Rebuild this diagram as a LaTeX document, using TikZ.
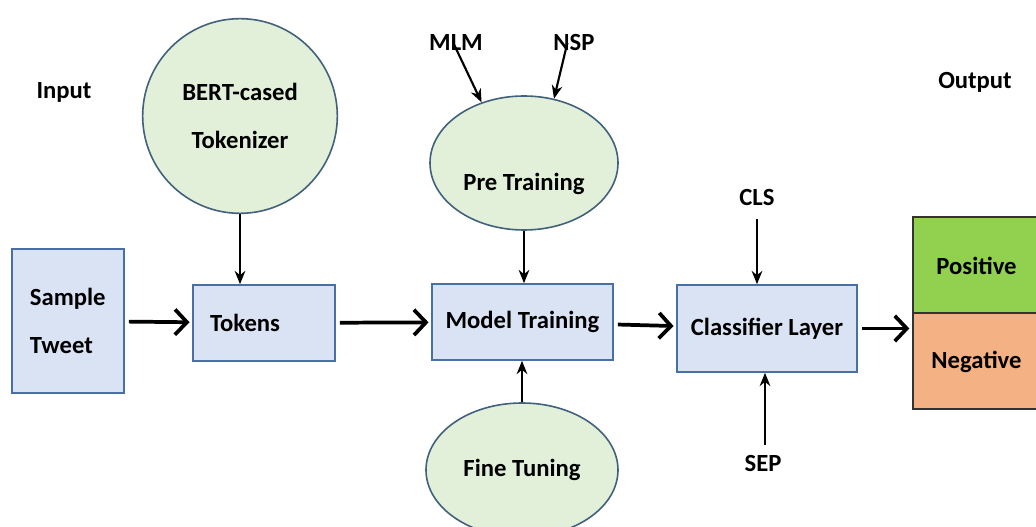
\documentclass[tikz,border=0pt]{standalone}
\usepackage{fontspec}
\setmainfont{Carlito}
\usetikzlibrary{shapes,arrows.meta,positioning}

\definecolor{boxfill}{HTML}{DAE3F3}
\definecolor{boxline}{HTML}{4A6FA5}
\definecolor{ovalfill}{HTML}{E2EFD9}
\definecolor{ovalline}{HTML}{41617C}
\definecolor{posfill}{HTML}{92D050}
\definecolor{negfill}{HTML}{F4B183}

\begin{document}
\begin{tikzpicture}[x=0.75pt, y=-0.75pt, font=\fontsize{18.5}{36}\selectfont\bfseries]
\tikzstyle{block} = [rectangle, draw=boxline, line width=1.2pt, fill=boxfill, inner sep=0pt]
\tikzstyle{cloud} = [ellipse, draw=ovalline, line width=1.2pt, fill=ovalfill, inner sep=0pt, align=center]
\tikzstyle{result} = [rectangle, draw=black!80, line width=1.5pt, minimum width=95.25pt, minimum height=72pt]
\tikzstyle{line} = [draw, line width=2.8pt, shorten <=3pt, shorten >=2pt, -{Straight Barb[length=9pt,width=19pt]}]
\tikzstyle{feed} = [draw, line width=1.6pt, -{Stealth[length=10pt,width=8pt]}]

\path[use as bounding box, fill=white] (0,0) rectangle (1036,527);

% labels
\node (input) at (64,92) {Input};
\node (output) at (975,82) {Output};

% main row
\node [block, minimum width=84pt, minimum height=108pt, text width=57pt, align=left] (sample) at (68,321) {Sample\\Tweet};
\node [block, minimum width=106.5pt, minimum height=57pt, text width=81pt, align=left] (tokens) at (264,323) {Tokens};
\node [block, minimum width=135.75pt, minimum height=57pt] (model) at (522.5,322) {Model Training};
\node [block, minimum width=135pt, minimum height=65.25pt] (classifier) at (767,328.5) {Classifier Layer};
\node [result, fill=posfill] (pos) at (976.5,265.5) {Positive};
\node [result, fill=negfill] (neg) at (976.5,361.5) {Negative};

% ovals
\node [cloud, circle, minimum size=146pt] (bert) at (240,116) {BERT-cased\\Tokenizer};
\node [cloud, minimum width=141pt, minimum height=100.5pt, text height=45pt, text depth=4pt] (pre) at (524,163) {Pre Training};
\node [cloud, minimum width=144pt, minimum height=100.5pt] (fine) at (522,470) {Fine Tuning};

% small inputs
\node (mlm) at (456,43) {MLM};
\node (nsp) at (574,43) {NSP};
\node (clslabel) at (757,197) {CLS};
\node (seplabel) at (763,463) {SEP};

\path [line] (sample) -- (tokens);
\path [line] (tokens) -- (model);
\path [line] (model) -- (classifier);
\path [line] (classifier.east) -- (classifier.east -| pos.west);

\path [feed] (bert.south) -- (bert.south |- tokens.north);
\path [feed] (pre.south) -- (pre.south |- model.north);
\path [feed] (fine.north) -- (fine.north |- model.south);
\path [feed] ([xshift=-2pt]mlm.center) -- (pre.125);
\path [feed] ([xshift=-5pt]nsp.center) -- (pre.65);
\path [feed, shorten <=7pt] (clslabel.south) -- (clslabel.south |- classifier.north);
\path [feed, shorten <=4pt] ([xshift=1.5pt]seplabel.north) -- ([xshift=1.5pt]seplabel.north |- classifier.south);
\end{tikzpicture}
\end{document}
